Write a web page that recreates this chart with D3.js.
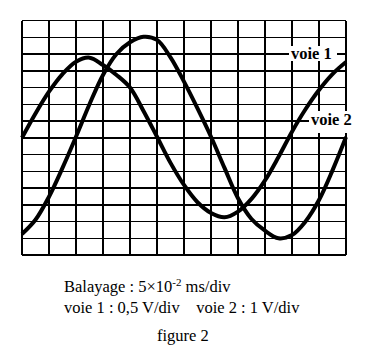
<!DOCTYPE html>
<html>
<head>
<meta charset="utf-8">
<script src="https://cdn.jsdelivr.net/npm/d3@7"></script>
<style>
html,body{margin:0;padding:0;background:#fff;}
svg{display:block;}
text{font-family:"Liberation Serif","Times New Roman",serif;fill:#000;}
</style>
</head>
<body>
<svg id="chart" width="380" height="356"></svg>
<script>
// Grid: 12 horizontal divisions, 14 vertical divisions
const xDivs = d3.range(0, 13);
const yDivs = d3.range(-7, 8);

// voie 1 (smaller amplitude curve), positions in divisions
const voie1X = [0, 0.5, 1, 1.5, 2, 2.5, 3, 3.5, 4, 4.5, 5, 5.5, 6, 6.5, 7, 7.5, 8, 8.5, 9, 9.5, 10, 10.5, 11, 11.5, 12];
const voie1Y = [0, 1.45, 2.75, 3.8, 4.54, 4.78, 4.34, 3.75, 3.0, 1.6, 0.06, -1.5, -2.82, -3.85, -4.49, -4.75, -4.41, -3.65, -2.55, -1.15, 0.36, 1.7, 2.85, 3.8, 4.52];

// voie 2 (larger amplitude curve)
const voie2X = [0, 0.5, 1, 1.5, 2, 2.5, 3, 3.5, 4, 4.5, 5, 5.5, 6, 6.5, 7, 7.5, 8, 8.5, 9, 9.5, 10, 10.5, 11, 11.5, 12];
const voie2Y = [-5.75, -4.9, -3.52, -1.8, 0.06, 2.0, 3.75, 5.0, 5.7, 6.03, 5.84, 4.8, 3.35, 1.75, 0.06, -1.8, -3.61, -4.85, -5.55, -6.0, -5.81, -5.0, -3.72, -1.95, 0.04];

const labels = ["voie 1", "voie 2"];
const caption1 = "Balayage : 5×10";
const caption1Sup = "-2";
const caption1End = " ms/div";
const caption2 = "voie 1 : 0,5 V/div    voie 2 : 1 V/div";
const caption3 = "figure 2";

const svg = d3.select("#chart");
const x = d3.scaleLinear().domain([0, 12]).range([22, 346]);
const y = d3.scaleLinear().domain([-7, 7]).range([255, 20.5]);

const grid = svg.append("g").attr("stroke", "#000").attr("stroke-width", 1.5).attr("shape-rendering", "crispEdges");
grid.selectAll("line.v").data(xDivs).join("line").attr("class", "v")
  .attr("x1", d => x(d)).attr("x2", d => x(d)).attr("y1", y(7)).attr("y2", y(-7));
grid.selectAll("line.h").data(yDivs).join("line").attr("class", "h")
  .attr("x1", x(0)).attr("x2", x(12)).attr("y1", d => y(d)).attr("y2", d => y(d));

const line = d3.line().x(d => x(d[0])).y(d => y(d[1])).curve(d3.curveCatmullRom.alpha(0.5));
const s1 = voie1X.map((v, i) => [v, voie1Y[i]]);
const s2 = voie2X.map((v, i) => [v, voie2Y[i]]);
svg.append("path").attr("d", line(s1)).attr("fill", "none").attr("stroke", "#000").attr("stroke-width", 4);
svg.append("path").attr("d", line(s2)).attr("fill", "none").attr("stroke", "#000").attr("stroke-width", 4);

// label boxes
svg.append("rect").attr("x", 289).attr("y", 46).attr("width", 48).attr("height", 15).attr("fill", "#fff");
svg.append("rect").attr("x", 309).attr("y", 111).attr("width", 45).attr("height", 22).attr("fill", "#fff");
svg.append("text").attr("x", 291).attr("y", 59).attr("font-size", 16.5).attr("font-weight", "bold").text(labels[0]);
svg.append("text").attr("x", 311).attr("y", 125).attr("font-size", 16.5).attr("font-weight", "bold").text(labels[1]);

// captions
const t1 = svg.append("text").attr("x", 64).attr("y", 292).attr("font-size", 16.5).style("white-space", "pre");
t1.append("tspan").text(caption1);
t1.append("tspan").attr("font-size", 11).attr("dy", -6).text(caption1Sup);
t1.append("tspan").attr("dy", 6).text(caption1End);
svg.append("text").attr("x", 64).attr("y", 313).attr("font-size", 16.5).style("white-space", "pre").text(caption2);
svg.append("text").attr("x", 157).attr("y", 341).attr("font-size", 16.5).text(caption3);
</script>
</body>
</html>
